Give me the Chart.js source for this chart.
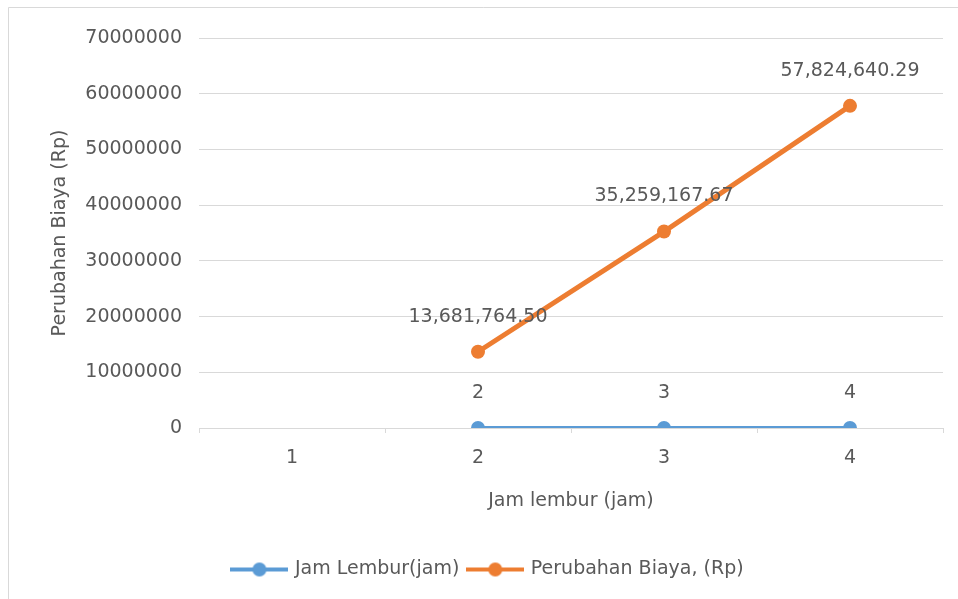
<!DOCTYPE html>
<html>
<head>
<meta charset="utf-8">
<script src="https://cdn.jsdelivr.net/npm/chart.js@4/dist/chart.umd.min.js"></script>
<style>
  html, body { margin: 0; padding: 0; background: #fff; }
  #wrap { width: 958px; height: 599px; }
</style>
</head>
<body>
<div id="wrap"><canvas id="grafik" width="958" height="599"></canvas></div>
<script>
const kategori = ['1', '2', '3', '4'];
const jamLembur = [null, 2, 3, 4];
const perubahanBiaya = [null, 13681764.50, 35259167.67, 57824640.29];
const tickY = [0, 10000000, 20000000, 30000000, 40000000, 50000000, 60000000, 70000000];

const biru = '#5B9BD5';
const oranye = '#ED7D31';
const abu = '#595959';
const garis = '#d9d9d9';
const huruf = 'DejaVu Sans';

function ikonLegenda(warna) {
  const c = document.createElement('canvas');
  c.width = 58; c.height = 16;
  const x = c.getContext('2d');
  x.strokeStyle = warna; x.lineWidth = 4;
  x.beginPath(); x.moveTo(0, 8); x.lineTo(58, 8); x.stroke();
  x.fillStyle = warna;
  x.beginPath(); x.arc(29, 8, 7, 0, Math.PI * 2); x.fill();
  return c;
}

const bingkai = {
  id: 'bingkai',
  beforeDraw(chart) {
    const ctx = chart.ctx;
    ctx.save();
    ctx.fillStyle = '#fff';
    ctx.fillRect(0, 0, chart.width, chart.height);
    ctx.strokeStyle = garis; ctx.lineWidth = 1;
    ctx.beginPath();
    ctx.moveTo(8.5, chart.height); ctx.lineTo(8.5, 7.5); ctx.lineTo(chart.width, 7.5);
    ctx.stroke();
    ctx.restore();
  }
};

// geser legenda sedikit ke kanan seperti di Excel
const geserLegenda = {
  id: 'geserLegenda',
  afterLayout(chart) {
    if (chart.legend) { chart.legend.left += 13; chart.legend.right += 13; }
  }
};

const labelData = {
  id: 'labelData',
  afterDatasetsDraw(chart) {
    const ctx = chart.ctx;
    ctx.save();
    ctx.font = '19px "' + huruf + '"';
    ctx.fillStyle = abu;
    ctx.textAlign = 'center';
    ctx.textBaseline = 'middle';
    chart.data.datasets.forEach((ds, i) => {
      chart.getDatasetMeta(i).data.forEach((pt, j) => {
        const v = ds.data[j];
        if (v === null) return;
        const teks = i === 0 ? String(v)
          : v.toLocaleString('en-US', { minimumFractionDigits: 2, maximumFractionDigits: 2 });
        ctx.fillText(teks, pt.x, pt.y - 35);
      });
    });
    ctx.restore();
  }
};

Chart.defaults.font.family = huruf;
Chart.defaults.font.size = 19;
Chart.defaults.color = abu;

new Chart(document.getElementById('grafik'), {
  type: 'line',
  data: {
    labels: kategori,
    datasets: [
      {
        label: 'Jam Lembur(jam)',
        data: jamLembur,
        borderColor: biru,
        backgroundColor: biru,
        borderWidth: 4,
        pointRadius: 7,
        pointBorderWidth: 0,
        ikon: ikonLegenda(biru)
      },
      {
        label: 'Perubahan Biaya, (Rp)',
        data: perubahanBiaya,
        borderColor: oranye,
        backgroundColor: oranye,
        borderWidth: 5,
        pointRadius: 7,
        pointBorderWidth: 0,
        ikon: ikonLegenda(oranye)
      }
    ]
  },
  options: {
    responsive: false,
    animation: false,
    layout: { padding: { left: 8, top: 38, right: 15, bottom: 10 } },
    plugins: {
      tooltip: { enabled: false },
      legend: {
        position: 'bottom',
        labels: {
          usePointStyle: true,
          pointStyleWidth: 52,
          padding: 10,
          color: abu,
          generateLabels(chart) {
            return chart.data.datasets.map((ds, i) => ({
              text: ds.label,
              pointStyle: ds.ikon,
              fillStyle: ds.borderColor,
              strokeStyle: ds.borderColor,
              lineWidth: 0,
              fontColor: abu,
              datasetIndex: i
            }));
          }
        }
      }
    },
    scales: {
      x: {
        offset: true,
        grid: { drawOnChartArea: false, drawTicks: true, tickLength: 5, color: garis, offset: true },
        border: { display: true, color: garis },
        ticks: { padding: 14, color: abu },
        title: { display: true, text: 'Jam lembur (jam)', color: abu, padding: { top: 4, bottom: 38 } },
        afterFit(s) { s.height = 122; }
      },
      y: {
        min: 0,
        max: 70000000,
        afterBuildTicks(s) { s.ticks = tickY.map(v => ({ value: v })); },
        grid: { color: garis, drawTicks: false },
        border: { display: false },
        ticks: { padding: 17, color: abu, callback: v => String(v) },
        title: { display: true, text: 'Perubahan Biaya (Rp)', color: abu, padding: { top: 41, bottom: 4 } },
        afterFit(s) { s.width = 191; }
      }
    }
  },
  plugins: [bingkai, geserLegenda, labelData]
});
</script>
</body>
</html>
